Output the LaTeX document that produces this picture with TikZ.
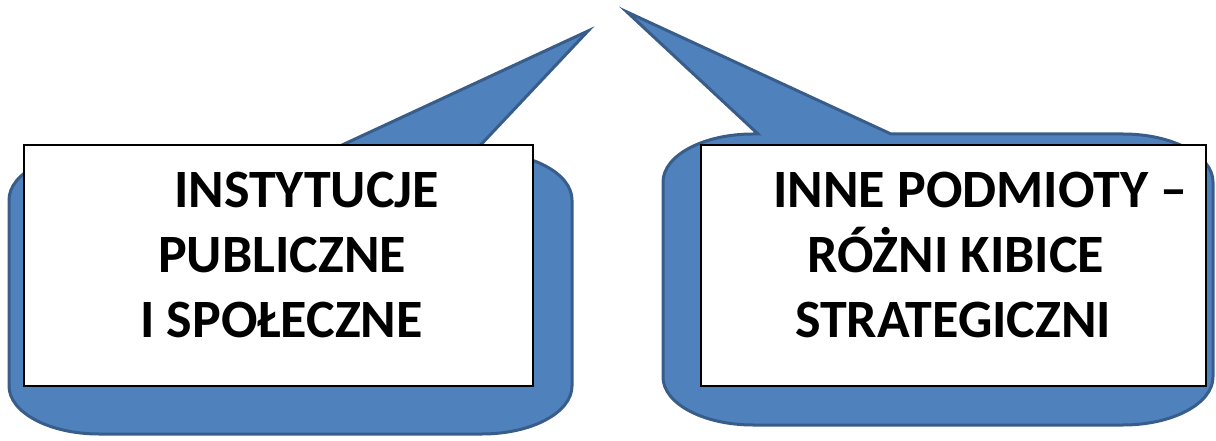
\documentclass[tikz,border=0pt]{standalone}
\usepackage{fontspec}
\setmainfont{Carlito}
\begin{document}
\begin{tikzpicture}[x=1pt,y=1pt,
  callout/.style={fill={rgb,255:red,79;green,129;blue,189}, draw={rgb,255:red,56;green,93;blue,138}, line width=3pt, line join=miter},
  whitebox/.style={fill=white, draw=black, line width=2.2pt},
  txt/.style={anchor=base west, inner sep=0pt, font=\fontsize{54}{65}\selectfont\bfseries}]
\useasboundingbox (0,0) rectangle (1216,440);
% left callout
\draw[callout] (99,6) -- (482,6) arc[start angle=-90,end angle=0,x radius=90,y radius=48]
  -- (572,240) arc[start angle=0,end angle=90,x radius=90,y radius=48]
  -- (474,288) -- (588,409) -- (327,288) -- (99,288)
  arc[start angle=90,end angle=180,x radius=90,y radius=48]
  -- (9,54) arc[start angle=180,end angle=270,x radius=90,y radius=48] -- cycle;
% right callout
\draw[callout] (753,15) -- (1123,15) arc[start angle=-90,end angle=0,x radius=90,y radius=48]
  -- (1213,258) arc[start angle=0,end angle=90,x radius=90,y radius=48]
  -- (891,306) -- (627,428) -- (758,306) -- (753,306)
  arc[start angle=90,end angle=180,x radius=90,y radius=48]
  -- (663,63) arc[start angle=180,end angle=270,x radius=90,y radius=48] -- cycle;
% white boxes
\node[whitebox, minimum width=509pt, minimum height=241pt, anchor=south west, inner sep=0pt] (lbox) at (23,53) {};
\node[whitebox, minimum width=505pt, minimum height=241pt, anchor=south west, inner sep=0pt] (rbox) at (700,53) {};
% texts
\node[txt] (l1) at (174,233) {INSTYTUCJE};
\node[txt] (l2) at (158,168) {PUBLICZNE};
\node[txt] (l3) at (140,103) {I SPOŁECZNE};
\node[txt] (r1) at (773,233) {INNE PODMIOTY –};
\node[txt] (r2) at (807,168) {RÓŻNI KIBICE};
\node[txt] (r3) at (795,103) {STRATEGICZNI};
\end{tikzpicture}
\end{document}
